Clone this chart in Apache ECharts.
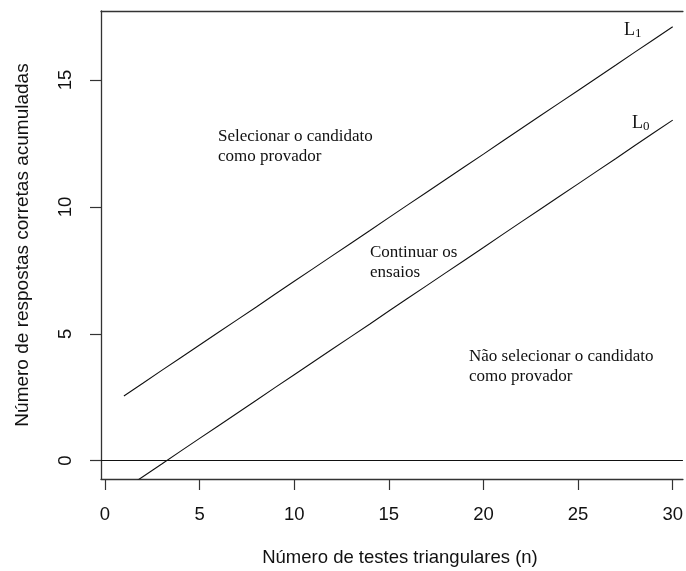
<!DOCTYPE html>
<html>
<head>
<meta charset="utf-8">
<script src="https://cdn.jsdelivr.net/npm/echarts@6/dist/echarts.min.js"></script>
<style>html,body{margin:0;padding:0;background:#fff;}#c{width:686px;height:571px;}</style>
</head>
<body>
<div id="c"></div>
<script>
// Data
var nValues = [1,2,3,4,5,6,7,8,9,10,11,12,13,14,15,16,17,18,19,20,21,22,23,24,25,26,27,28,29,30];
var L1 = [2.55,3.05,3.56,4.06,4.56,5.06,5.56,6.06,6.57,7.07,7.57,8.07,8.57,9.07,9.58,10.08,10.58,11.08,11.58,12.08,12.59,13.09,13.59,14.09,14.59,15.09,15.59,16.10,16.60,17.10];
var L0 = [-1.13,-0.63,-0.13,0.38,0.88,1.38,1.88,2.38,2.89,3.39,3.89,4.39,4.89,5.39,5.90,6.40,6.90,7.40,7.90,8.40,8.91,9.41,9.91,10.41,10.91,11.41,11.91,12.42,12.92,13.42];
var xTicks = [0,5,10,15,20,25,30];
var yTicks = [0,5,10,15];
var xTitle = 'Número de testes triangulares (n)';
var yTitle = 'Número de respostas corretas acumuladas';
var regionTexts = ['Selecionar o candidato\ncomo provador', 'Continuar os\nensaios', 'Não selecionar o candidato\ncomo provador'];

function pairs(xs, ys){ return xs.map(function(x,i){ return [x, ys[i]]; }); }

var chart = echarts.init(document.getElementById('c'), null, {renderer:'canvas'});
var sans = 'Liberation Sans, Arial, sans-serif';
var serif = 'Liberation Serif, Times New Roman, serif';
var axisCol = '#333';

chart.setOption({
  animation: false,
  backgroundColor: '#fff',
  grid: {left: 101, top: 11, right: 0, bottom: 92},
  xAxis: [{
    type: 'value', min: -0.21, max: 30.54, position: 'bottom',
    splitLine: {show: false},
    axisLine: {show: true, onZero: false, lineStyle: {color: axisCol, width: 1.3}},
    axisTick: {show: true, length: 11, customValues: xTicks, lineStyle: {color: axisCol, width: 1.2}},
    axisLabel: {customValues: xTicks, margin: 26, fontSize: 18.5, fontFamily: sans, color: '#111'}
  }, {
    type: 'value', min: -0.21, max: 30.54, position: 'top',
    splitLine: {show: false},
    axisLine: {show: true, onZero: false, lineStyle: {color: axisCol, width: 1.3}},
    axisTick: {show: false}, axisLabel: {show: false}
  }],
  yAxis: {
    type: 'value', min: -0.72, max: 17.72,
    splitLine: {show: false},
    axisLine: {show: true, onZero: false, lineStyle: {color: axisCol, width: 1.3}},
    axisTick: {show: true, length: 11, customValues: yTicks, lineStyle: {color: axisCol, width: 1.2}},
    axisLabel: {customValues: yTicks, rotate: 90, margin: 26, fontSize: 18.5, fontFamily: sans, color: '#111'}
  },
  series: [{
    type: 'line', name: 'L1', data: pairs(nValues, L1), showSymbol: false, clip: true,
    lineStyle: {color: '#111', width: 1.1}
  }, {
    type: 'line', name: 'L0', data: pairs(nValues, L0), showSymbol: false, clip: true,
    lineStyle: {color: '#111', width: 1.1},
    markLine: {
      silent: true, symbol: 'none', label: {show: false},
      lineStyle: {color: '#111', width: 1.1, type: 'solid'},
      data: [{yAxis: 0}]
    }
  }],
  graphic: [
    {type: 'text', x: 400, y: 558, style: {text: xTitle, font: '18.5px ' + sans, fill: '#111', textAlign: 'center', textVerticalAlign: 'middle'}},
    {type: 'text', x: 23, y: 245, rotation: Math.PI/2, style: {text: yTitle, font: '19px ' + sans, fill: '#111', textAlign: 'center', textVerticalAlign: 'middle'}},
    {type: 'text', x: 218, y: 127, style: {text: regionTexts[0], font: '17px ' + serif, lineHeight: 20, fill: '#111', textAlign: 'left', textVerticalAlign: 'top'}},
    {type: 'text', x: 370, y: 243, style: {text: regionTexts[1], font: '17px ' + serif, lineHeight: 20, fill: '#111', textAlign: 'left', textVerticalAlign: 'top'}},
    {type: 'text', x: 469, y: 347, style: {text: regionTexts[2], font: '17px ' + serif, lineHeight: 20, fill: '#111', textAlign: 'left', textVerticalAlign: 'top'}},
    {type: 'text', x: 624, y: 30, style: {text: '{a|L}{b|1}', rich: {a: {fontSize: 18, fontFamily: serif, fill: '#111'}, b: {fontSize: 13, fontFamily: serif, fill: '#111', padding: [8,0,0,0]}}, textAlign: 'left', textVerticalAlign: 'middle'}},
    {type: 'text', x: 632, y: 123, style: {text: '{a|L}{b|0}', rich: {a: {fontSize: 18, fontFamily: serif, fill: '#111'}, b: {fontSize: 13, fontFamily: serif, fill: '#111', padding: [8,0,0,0]}}, textAlign: 'left', textVerticalAlign: 'middle'}}
  ]
});
</script>
</body>
</html>
